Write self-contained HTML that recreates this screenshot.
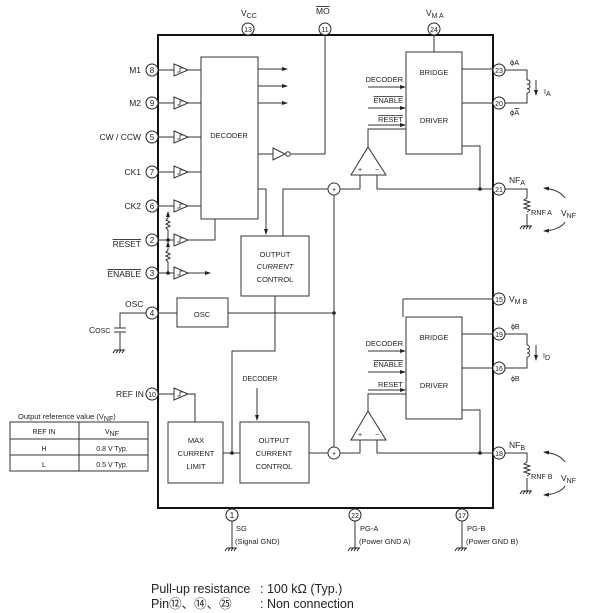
<!DOCTYPE html>
<html><head><meta charset="utf-8"><style>
html,body{margin:0;padding:0;background:#fff}
svg{display:block}
text{font-family:"Liberation Sans","Noto Sans CJK JP",sans-serif;fill:#222}
</style></head><body>
<svg width="611" height="613" viewBox="0 0 611 613" xmlns="http://www.w3.org/2000/svg">
<defs>
<marker id="ar" markerWidth="6" markerHeight="6" refX="5" refY="3" orient="auto" markerUnits="userSpaceOnUse"><path d="M0,1 L6,3 L0,5 Z" fill="#222"/></marker>
<g id="buf"><path d="M0,-6 L14,0 L0,6 Z" fill="#fff" stroke="#333" stroke-width="1"/><path d="M3,2 h3 v-4 h3" fill="none" stroke="#333" stroke-width="0.8"/></g>
<g id="gnd"><path d="M-5,0 h10 M-5,0 l-2,3 M-2,0 l-2,3 M1,0 l-2,3 M4,0 l-2,3" stroke="#222" stroke-width="1"/></g>
</defs>
<g stroke="#333" stroke-width="1" fill="none">
<rect x="158" y="35" width="335" height="473" stroke="#111" stroke-width="2"/>
<rect x="201" y="57" width="57" height="162"/>
<rect x="241" y="236" width="68" height="60"/>
<rect x="177" y="298" width="51" height="29"/>
<rect x="168" y="422" width="55" height="61"/>
<rect x="240" y="422" width="69" height="61"/>
<rect x="406" y="52" width="56" height="102"/>
<rect x="406" y="317" width="56" height="102"/>
<path d="M158,70 H201 M158,103 H201 M158,137 H201 M158,172 H201 M158,206 H201 M158,240 H215 V219 M158,273 H208"/>
<path d="M258,69 H287" marker-end="url(#ar)"/>
<path d="M258,86 H287" marker-end="url(#ar)"/>
<path d="M258,103 H287" marker-end="url(#ar)"/>
<path d="M190,273 H210" marker-end="url(#ar)"/>
<path d="M168,273 V262 l-2,-2 4,-2 -4,-2 4,-2 -4,-2 2,-2 V244 M168,240 V230 l-2,-2 4,-2 -4,-2 4,-2 -4,-2 2,-2 V216"/>
<path d="M168,246 V242" marker-end="url(#ar)"/>
<path d="M168,216 V212" marker-end="url(#ar)"/>
<path d="M258,154 H273 M273,148 L285,154 L273,160 Z M291,154 H325 V35"/>
<circle cx="288" cy="154" r="2.3"/>
<path d="M258,189 H266 V234" marker-end="url(#ar)"/>
<path d="M283,236 V189 H328"/>
<circle cx="334" cy="189" r="6"/>
<path d="M340,189 H360 V175 M377,175 V189 H493 M462,146 H480 V189"/>
<path d="M351,175 L368,147 L386,175 Z"/>
<path d="M368,147 V129 H406"/>
<path d="M368,87 H405" marker-end="url(#ar)"/>
<path d="M368,108 H405" marker-end="url(#ar)"/>
<path d="M368,125 H405" marker-end="url(#ar)"/>
<path d="M462,69 H493 M462,103 H493 M434,35 V52"/>
<path d="M334,195 V447 M275,296 V351 H232 V453 M223,453 H240 M228,313 H334 M158,313 H177"/>
<path d="M403,299 H493 M403,299 V317"/>
<circle cx="334" cy="453" r="6"/>
<path d="M309,453 H328 M340,453 H360 V440 M377,440 V453 H493 M462,410 H480 V453"/>
<path d="M351,440 L368,411 L386,440 Z"/>
<path d="M368,411 V394 H406"/>
<path d="M368,351 H405" marker-end="url(#ar)"/>
<path d="M368,372 H405" marker-end="url(#ar)"/>
<path d="M368,390 H405" marker-end="url(#ar)"/>
<path d="M462,334 H493 M462,368 H493"/>
<path d="M257,388 V420" marker-end="url(#ar)"/>
<path d="M158,394 H174 M188,394 H195 V422"/>
<path d="M146,313 H120 V328 M114,328 h12 M114,332 h12 M120,332 V350"/>
<path d="M232,521 V548 M355,521 V548 M462,521 V548"/>
<path d="M505,70 H527 V80 M527,93 V103 H505 M505,189 H527 V198 M527,214 V226"/>
<path d="M527,80 a2.5,2.2 0 1 1 0,4.3 a2.5,2.2 0 1 1 0,4.3 a2.5,2.2 0 1 1 0,4.4"/>
<path d="M527,198 l-3,2 6,2 -6,2 6,2 -6,2 6,2 -3,2"/>
<path d="M536,80 V95" marker-end="url(#ar)"/>
<path d="M565,198 Q560,190 544,188" marker-end="url(#ar)"/>
<path d="M565,222 Q560,230 544,231" marker-end="url(#ar)"/>
<path d="M505,334 H527 V345 M527,357 V368 H505 M505,453 H527 V462 M527,478 V491"/>
<path d="M527,345 a2.5,2 0 1 1 0,4 a2.5,2 0 1 1 0,4 a2.5,2 0 1 1 0,4"/>
<path d="M527,462 l-3,2 6,2 -6,2 6,2 -6,2 6,2 -3,2"/>
<path d="M536,345 V360" marker-end="url(#ar)"/>
<path d="M565,462 Q560,454 544,452" marker-end="url(#ar)"/>
<path d="M565,486 Q560,494 544,495" marker-end="url(#ar)"/>
<rect x="10" y="422" width="138" height="49"/>
<path d="M10,439 H148 M10,455 H148 M79,422 V471"/>
</g>
<g fill="#222">
<circle cx="168" cy="240" r="1.8"/><circle cx="168" cy="273" r="1.8"/>
<circle cx="480" cy="189" r="1.8"/><circle cx="480" cy="453" r="1.8"/>
<circle cx="334" cy="313" r="1.8"/><circle cx="232" cy="453" r="1.8"/>
</g>
<use href="#buf" x="174" y="70"/><use href="#buf" x="174" y="103"/><use href="#buf" x="174" y="137"/>
<use href="#buf" x="174" y="172"/><use href="#buf" x="174" y="206"/><use href="#buf" x="174" y="240"/>
<use href="#buf" x="174" y="273"/><use href="#buf" x="174" y="394"/>
<use href="#gnd" x="120" y="350"/><use href="#gnd" x="232" y="548"/><use href="#gnd" x="355" y="548"/>
<use href="#gnd" x="462" y="548"/><use href="#gnd" x="527" y="226"/><use href="#gnd" x="527" y="491"/>
<g fill="#fff" stroke="#222" stroke-width="1">
<circle cx="152" cy="70" r="6"/><circle cx="152" cy="103" r="6"/><circle cx="152" cy="137" r="6"/>
<circle cx="152" cy="172" r="6"/><circle cx="152" cy="206" r="6"/><circle cx="152" cy="240" r="6"/>
<circle cx="152" cy="273" r="6"/><circle cx="152" cy="313" r="6"/><circle cx="152" cy="394" r="6"/>
<circle cx="248" cy="29" r="6"/><circle cx="325" cy="29" r="6"/><circle cx="434" cy="29" r="6"/>
<circle cx="499" cy="70" r="6"/><circle cx="499" cy="103" r="6"/><circle cx="499" cy="189" r="6"/>
<circle cx="499" cy="299" r="6"/><circle cx="499" cy="334" r="6"/><circle cx="499" cy="368" r="6"/>
<circle cx="499" cy="453" r="6"/>
<circle cx="232" cy="515" r="6"/><circle cx="355" cy="515" r="6"/><circle cx="462" cy="515" r="6"/>
</g>
<g font-size="8" text-anchor="middle">
<text x="152" y="73">8</text><text x="152" y="106">9</text><text x="152" y="140">5</text>
<text x="152" y="175">7</text><text x="152" y="209">6</text><text x="152" y="243">2</text>
<text x="152" y="276">3</text><text x="152" y="316">4</text><text x="152" y="397" font-size="7">10</text>
<text x="248" y="32" font-size="7">13</text><text x="325" y="32" font-size="7">11</text><text x="434" y="32" font-size="7">24</text>
<text x="499" y="73" font-size="7">23</text><text x="499" y="106" font-size="7">20</text><text x="499" y="192" font-size="7">21</text>
<text x="499" y="302" font-size="7">15</text><text x="499" y="337" font-size="7">19</text><text x="499" y="371" font-size="7">16</text>
<text x="499" y="456" font-size="7">18</text>
<text x="232" y="518">1</text><text x="355" y="518" font-size="7">22</text><text x="462" y="518" font-size="7">17</text>
</g>
<g font-size="8.5">
<text x="141" y="73" text-anchor="end">M1</text>
<text x="141" y="106" text-anchor="end">M2</text>
<text x="141" y="140" text-anchor="end">CW / CCW</text>
<text x="141" y="175" text-anchor="end">CK1</text>
<text x="141" y="209" text-anchor="end">CK2</text>
<text x="141" y="247" text-anchor="end" text-decoration="overline">RESET</text>
<text x="141" y="277" text-anchor="end" text-decoration="overline">ENABLE</text>
<text x="125" y="307">OSC</text>
<text x="89" y="333">C<tspan font-size="7">OSC</tspan></text>
<text x="116" y="397">REF IN</text>
<text x="241" y="16">V<tspan font-size="7" dy="2">CC</tspan></text>
<text x="316" y="14" text-decoration="overline">MO</text>
<text x="426" y="16">V<tspan font-size="7" dy="2">M A</tspan></text>
<text x="229" y="138" text-anchor="middle" font-size="7.5">DECODER</text>
<text x="434" y="75" text-anchor="middle" font-size="7.5">BRIDGE</text>
<text x="434" y="123" text-anchor="middle" font-size="7.5">DRIVER</text>
<text x="434" y="340" text-anchor="middle" font-size="7.5">BRIDGE</text>
<text x="434" y="388" text-anchor="middle" font-size="7.5">DRIVER</text>
<text x="403" y="82" text-anchor="end" font-size="7.5">DECODER</text>
<text x="403" y="103" text-anchor="end" font-size="7.5" text-decoration="overline">ENABLE</text>
<text x="403" y="122" text-anchor="end" font-size="7.5" text-decoration="overline">RESET</text>
<text x="403" y="346" text-anchor="end" font-size="7.5">DECODER</text>
<text x="403" y="367" text-anchor="end" font-size="7.5" text-decoration="overline">ENABLE</text>
<text x="403" y="387" text-anchor="end" font-size="7.5">RESET</text>
<g text-anchor="middle" font-size="7.5">
<text x="275" y="257">OUTPUT</text><text x="275" y="269" font-style="italic">CURRENT</text><text x="275" y="282">CONTROL</text>
<text x="202" y="317">OSC</text>
<text x="196" y="443">MAX</text><text x="196" y="456">CURRENT</text><text x="196" y="469">LIMIT</text>
<text x="274" y="443">OUTPUT</text><text x="274" y="456">CURRENT</text><text x="274" y="469">CONTROL</text>
<text x="260" y="381" font-size="7">DECODER</text>
<text x="360" y="172" font-size="7">+</text><text x="377" y="172" font-size="7">−</text>
<text x="360" y="437" font-size="7">+</text><text x="377" y="437" font-size="7">−</text>
<text x="334" y="192" font-size="7">+</text><text x="334" y="456" font-size="7">+</text>
</g>
<text x="510" y="65" font-size="7.5">ϕA</text>
<text x="510" y="115" font-size="7.5">ϕ<tspan text-decoration="overline">A</tspan></text>
<text x="544" y="94" font-size="7">I<tspan dy="2">A</tspan></text>
<text x="509" y="183">NF<tspan font-size="7" dy="2">A</tspan></text>
<text x="531" y="215" font-size="7.5">R<tspan font-size="7">NF A</tspan></text>
<text x="561" y="216">V<tspan font-size="7" dy="2">NF</tspan></text>
<text x="509" y="302">V<tspan font-size="7" dy="2">M B</tspan></text>
<text x="511" y="329" font-size="7">ϕB</text>
<text x="511" y="381" font-size="7">ϕ<tspan text-decoration="overline">B</tspan></text>
<text x="543" y="358" font-size="7">I<tspan dy="2">D</tspan></text>
<text x="509" y="448">NF<tspan font-size="7" dy="2">B</tspan></text>
<text x="531" y="479" font-size="7.5">R<tspan font-size="7">NF B</tspan></text>
<text x="561" y="481">V<tspan font-size="7" dy="2">NF</tspan></text>
<text x="236" y="531" font-size="7.5">SG</text><text x="235" y="544" font-size="7.5">(Signal GND)</text>
<text x="360" y="531" font-size="7.5">PG-A</text><text x="359" y="544" font-size="7.5">(Power GND A)</text>
<text x="467" y="531" font-size="7.5">PG-B</text><text x="466" y="544" font-size="7.5">(Power GND B)</text>
<text x="18" y="419" font-size="7.5">Output reference value (V<tspan font-size="7" dy="2">NF</tspan><tspan dy="-2">)</tspan></text>
<g text-anchor="middle" font-size="7">
<text x="44" y="434">REF IN</text><text x="112" y="434">V<tspan dy="2">NF</tspan></text>
<text x="44" y="451">H</text><text x="112" y="451">0.8 V Typ.</text>
<text x="44" y="467">L</text><text x="112" y="467">0.5 V Typ.</text>
</g>
</g>
<g font-size="12.5">
<text x="151" y="593">Pull-up resistance</text><text x="260" y="593">:  100 kΩ (Typ.)</text>
<text x="151" y="608">Pin⑫、⑭、㉕</text><text x="260" y="608">:  Non connection</text>
</g>
</svg>
</body></html>
